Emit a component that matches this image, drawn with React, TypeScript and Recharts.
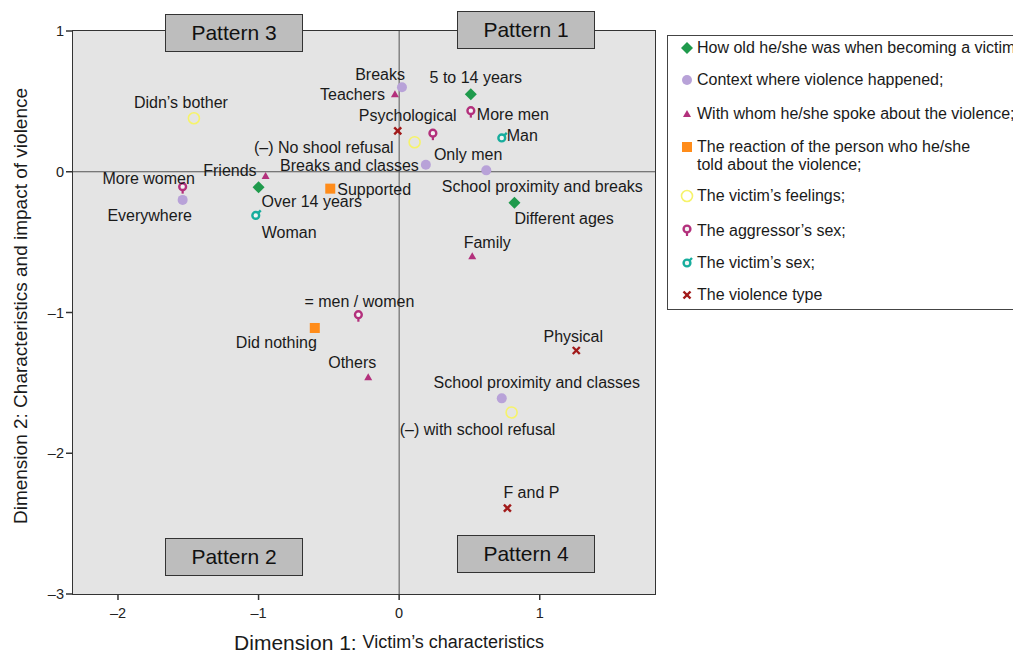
import * as React from "react";
import { ScatterChart, Scatter, XAxis, YAxis, CartesianGrid, ReferenceLine } from "recharts";

const FONT = "'Liberation Sans', Arial, Helvetica, sans-serif";

// points (dimension 1, dimension 2)
const ageData = [
  { name: "5 to 14 years", x: 0.51, y: 0.55 },
  { name: "Over 14 years", x: -1.0, y: -0.11 },
  { name: "Different ages", x: 0.82, y: -0.22 }
];
const contextData = [
  { name: "Breaks", x: 0.02, y: 0.6 },
  { name: "Breaks and classes", x: 0.19, y: 0.05 },
  { name: "School proximity and breaks", x: 0.62, y: 0.01 },
  { name: "Everywhere", x: -1.54, y: -0.2 },
  { name: "School proximity and classes", x: 0.73, y: -1.61 }
];
const spokeData = [
  { name: "Teachers", x: -0.03, y: 0.55 },
  { name: "Friends", x: -0.95, y: -0.03 },
  { name: "Family", x: 0.52, y: -0.6 },
  { name: "Others", x: -0.22, y: -1.46 }
];
const reactionData = [
  { name: "Supported", x: -0.49, y: -0.12 },
  { name: "Did nothing", x: -0.6, y: -1.11 }
];
const feelingsData = [
  { name: "Didn’s bother", x: -1.46, y: 0.38 },
  { name: "(–) No shool refusal", x: 0.11, y: 0.21 },
  { name: "(–) with school refusal", x: 0.8, y: -1.71 }
];
const aggressorData = [
  { name: "More women", x: -1.54, y: -0.12 },
  { name: "More men", x: 0.51, y: 0.42 },
  { name: "Only men", x: 0.24, y: 0.26 },
  { name: "= men / women", x: -0.29, y: -1.03 }
];
const victimSexData = [
  { name: "Man", x: 0.73, y: 0.24 },
  { name: "Woman", x: -1.02, y: -0.31 }
];
const violenceData = [
  { name: "Psychological", x: -0.01, y: 0.29 },
  { name: "Physical", x: 1.26, y: -1.27 },
  { name: "F and P", x: 0.77, y: -2.39 }
];

const xTicks = [-2, -1, 0, 1];
const yTicks = [-3, -2, -1, 0, 1];

const legendLabels = [
  ["How old he/she was when becoming a victim;"],
  ["Context where violence happened;"],
  ["With whom he/she spoke about the violence;"],
  ["The reaction of the person who he/she", "told about the violence;"],
  ["The victim’s feelings;"],
  ["The aggressor’s sex;"],
  ["The victim’s sex;"],
  ["The violence type"]
];
const legendTops = [12, 44, 78, 111, 160, 195, 227, 259];

// label placement around each marker: dx, dy, anchor
const labelPos: Record<string, [number, number, string]> = {
  "5 to 14 years": [5, -17, "middle"],
  "Over 14 years": [3, 14, "start"],
  "Different ages": [0, 16, "start"],
  Breaks: [3, -13, "end"],
  "Breaks and classes": [-7, 1, "end"],
  "School proximity and breaks": [56, 16, "middle"],
  Everywhere: [-33, 16, "middle"],
  "School proximity and classes": [35, -16, "middle"],
  Teachers: [-10, 0, "end"],
  Friends: [-9, -5, "end"],
  Family: [15, -14, "middle"],
  Others: [-16, -15, "middle"],
  Supported: [7, 1, "start"],
  "Did nothing": [2, 15, "end"],
  "Didn’s bother": [-13, -16, "middle"],
  "(–) No shool refusal": [-21, 5, "end"],
  "(–) with school refusal": [-34, 17, "middle"],
  "More women": [-34, -10, "middle"],
  "More men": [6, 2, "start"],
  "Only men": [1, 19, "start"],
  "= men / women": [1, -15, "middle"],
  Man: [5, -2, "start"],
  Woman: [6, 17, "start"],
  Psychological: [10, -15, "middle"],
  Physical: [-3, -14, "middle"],
  "F and P": [24, -16, "middle"]
};

const GREEN = "#1f9a4c";
const PURPLE = "#b8a2d8";
const MAGENTA = "#b3307c";
const ORANGE = "#ff8c1a";
const YELLOW = "#f6f36a";
const TEAL = "#17ad9d";
const RED = "#a11a1a";

const Marker = ({ kind, cx, cy }: { kind: number; cx: number; cy: number }) => {
  switch (kind) {
    case 0:
      return <polygon points={`${cx},${cy - 6} ${cx + 6},${cy} ${cx},${cy + 6} ${cx - 6},${cy}`} fill={GREEN} />;
    case 1:
      return <circle cx={cx} cy={cy} r={5} fill={PURPLE} />;
    case 2:
      return <polygon points={`${cx},${cy - 4} ${cx + 4},${cy + 3} ${cx - 4},${cy + 3}`} fill={MAGENTA} />;
    case 3:
      return <rect x={cx - 5} y={cy - 5} width={10} height={10} fill={ORANGE} />;
    case 4:
      return <circle cx={cx} cy={cy} r={5.5} fill="none" stroke={YELLOW} strokeWidth={1.6} />;
    case 5:
      return (
        <g>
          <line x1={cx} y1={cy} x2={cx} y2={cy + 5} stroke={MAGENTA} strokeWidth={2.2} />
          <circle cx={cx} cy={cy - 2} r={3.4} fill="#f4f4f4" stroke={MAGENTA} strokeWidth={2.4} />
        </g>
      );
    case 6:
      return (
        <g>
          <line x1={cx + 2} y1={cy - 2} x2={cx + 5} y2={cy - 5} stroke={TEAL} strokeWidth={2.4} />
          <circle cx={cx} cy={cy} r={3.4} fill="#f4f4f4" stroke={TEAL} strokeWidth={2.4} />
        </g>
      );
    default:
      return (
        <g stroke={RED} strokeWidth={2.4}>
          <line x1={cx - 3.5} y1={cy - 3.5} x2={cx + 3.5} y2={cy + 3.5} />
          <line x1={cx - 3.5} y1={cy + 3.5} x2={cx + 3.5} y2={cy - 3.5} />
        </g>
      );
  }
};

const makeShape = (kind: number) => (props: any) => {
  const { cx, cy, payload } = props;
  const [dx, dy, anchor] = labelPos[payload.name] || [6, 0, "start"];
  return (
    <g>
      <Marker kind={kind} cx={cx} cy={cy} />
      <text
        x={cx + dx}
        y={cy + dy}
        textAnchor={anchor as any}
        dominantBaseline="central"
        fontSize={16}
        fontFamily={FONT}
        fill="#1a1a1a"
      >
        {payload.name}
      </text>
    </g>
  );
};

const series = [
  ageData,
  contextData,
  spokeData,
  reactionData,
  feelingsData,
  aggressorData,
  victimSexData,
  violenceData
];

const fmt = (v: number) => (v < 0 ? `–${Math.abs(v)}` : `${v}`);

const PatternBox = ({ left, top, text }: { left: number; top: number; text: string }) => (
  <div
    style={{
      position: "absolute",
      left,
      top,
      width: 138,
      height: 38,
      background: "#bdbdbd",
      border: "1.5px solid #333",
      fontFamily: FONT,
      fontSize: 21,
      color: "#111",
      display: "flex",
      alignItems: "center",
      justifyContent: "center",
      boxSizing: "border-box"
    }}
  >
    {text}
  </div>
);

export default function App() {
  return (
    <div style={{ position: "absolute", left: 0, top: 0, width: 1013, height: 652, overflow: "hidden", background: "#fff" }}>
      <ScatterChart width={1013} height={652} margin={{ top: 31, right: 358, bottom: 0, left: 0 }}>
        <CartesianGrid fill="#e4e4e4" horizontal={false} vertical={false} />
        <XAxis
          type="number"
          dataKey="x"
          domain={[-2.32, 1.82]}
          ticks={xTicks}
          tickFormatter={fmt}
          height={58}
          tickSize={6}
          tickMargin={8}
          axisLine={false}
          tickLine={{ stroke: "#333", strokeWidth: 1.5 }}
          tick={{ fill: "#222", fontSize: 14.5, fontFamily: FONT }}
          allowDataOverflow
        />
        <YAxis
          type="number"
          dataKey="y"
          domain={[-3, 1]}
          ticks={yTicks}
          tickFormatter={fmt}
          width={73}
          tickSize={7}
          axisLine={false}
          tickLine={{ stroke: "#333", strokeWidth: 1.5 }}
          tick={{ fill: "#222", fontSize: 14.5, fontFamily: FONT }}
          allowDataOverflow
        />
        <ReferenceLine x={0} stroke="#555" strokeWidth={1} />
        <ReferenceLine y={0} stroke="#555" strokeWidth={1} />
        {series.map((d, i) => (
          <Scatter key={i} data={d} shape={makeShape(i)} isAnimationActive={false} />
        ))}
      </ScatterChart>

      {/* plot frame */}
      <div
        style={{
          position: "absolute",
          left: 72,
          top: 30,
          width: 584,
          height: 565,
          border: "1.5px solid #333",
          boxSizing: "border-box",
          pointerEvents: "none"
        }}
      />

      <PatternBox left={165} top={14} text="Pattern 3" />
      <PatternBox left={457} top={11} text="Pattern 1" />
      <PatternBox left={165} top={538} text="Pattern 2" />
      <PatternBox left={457} top={535} text="Pattern 4" />

      {/* axis titles */}
      <svg style={{ position: "absolute", left: 0, top: 0, pointerEvents: "none" }} width={1013} height={652}>
        <text x={389} y={642} textAnchor="middle" dominantBaseline="central" fontFamily={FONT} fill="#1a1a1a">
          <tspan fontSize={21}>Dimension 1: </tspan>
          <tspan fontSize={18}>Victim’s characteristics</tspan>
        </text>
        <text
          transform="translate(20,306) rotate(-90)"
          textAnchor="middle"
          dominantBaseline="central"
          fontFamily={FONT}
          fontSize={19}
          fill="#1a1a1a"
        >
          Dimension 2: Characteristics and impact of violence
        </text>
      </svg>

      {/* legend */}
      <div
        style={{
          position: "absolute",
          left: 667,
          top: 35,
          width: 380,
          height: 275,
          border: "1.5px solid #444",
          boxSizing: "border-box",
          background: "#fff",
          fontFamily: FONT,
          fontSize: 16,
          color: "#1a1a1a"
        }}
      >
        {legendLabels.map((lines, i) => (
          <div key={i} style={{ position: "absolute", left: 0, top: legendTops[i] - 9 }}>
            <svg width={30} height={18} style={{ position: "absolute", left: 4, top: 0 }}>
              <Marker kind={i} cx={15} cy={9} />
            </svg>
            <div style={{ position: "absolute", left: 29, top: 0, whiteSpace: "nowrap", lineHeight: "18px" }}>
              {lines.map((l, j) => (
                <div key={j}>{l}</div>
              ))}
            </div>
          </div>
        ))}
      </div>
    </div>
  );
}
